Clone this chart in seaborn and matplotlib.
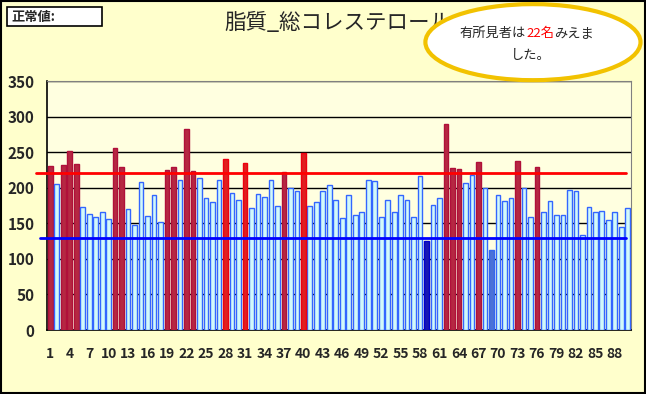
import numpy as np
import pandas as pd
import matplotlib.pyplot as plt
from matplotlib.patches import Ellipse
import seaborn as sns

# 受診者番号と総コレステロール値
patient_no = list(range(1, 91))
chol = [231, 205, 232, 252, 234, 173, 163, 159, 166, 156,
        256, 229, 170, 147, 208, 160, 190, 152, 225, 229,
        211, 283, 224, 214, 186, 180, 211, 241, 193, 183,
        235, 172, 191, 187, 211, 174, 222, 200, 196, 249,
        174, 180, 196, 204, 183, 158, 190, 162, 166, 211,
        209, 159, 183, 166, 190, 183, 159, 217, 125, 176,
        185, 290, 228, 226, 207, 218, 236, 199, 113, 190,
        181, 185, 237, 199, 159, 229, 166, 181, 161, 162,
        197, 196, 134, 173, 166, 167, 155, 166, 145, 172]

# 有所見者の区分 (dark red / bright red / low)
dark_red = [1, 3, 4, 5, 11, 12, 19, 20, 22, 23, 37, 62, 63, 64, 67, 73, 76]
bright_red = [28, 31, 40]
low_dark = [59]
low_blue = [69]

upper_limit = 220
lower_limit = 130

group = []
for n in patient_no:
    if n in dark_red:
        group.append('dark_red')
    elif n in bright_red:
        group.append('bright_red')
    elif n in low_dark:
        group.append('low_dark')
    elif n in low_blue:
        group.append('low_blue')
    else:
        group.append('normal')

df = pd.DataFrame({'no': [str(n) for n in patient_no], 'chol': chol, 'group': group})

palette = {'normal': '#CCFFFF', 'dark_red': '#CC1133', 'bright_red': '#FF0000',
           'low_dark': '#0000CC', 'low_blue': '#3366EE'}
edges = {'normal': '#3366FF', 'dark_red': '#B0103A', 'bright_red': '#EE0010',
         'low_dark': '#0000CC', 'low_blue': '#3366EE'}

sns.set_style('white')
plt.rcParams['font.family'] = ['Noto Sans CJK JP', 'DejaVu Sans']

fig = plt.figure(figsize=(6.46, 3.94), dpi=100, facecolor='#FFFFCC')
ax = fig.add_axes([0.0728, 0.1624, 0.904, 0.632])
ax.set_facecolor('#FFFFE0')

sns.barplot(data=df, x='no', y='chol', hue='group', palette=palette, dodge=False,
            width=0.72, edgecolor='#3366FF', linewidth=1, legend=False, ax=ax, zorder=3)

# 棒ごとの枠線色
bars = sorted(ax.patches, key=lambda p: p.get_x())
for p, g in zip(bars, group):
    p.set_edgecolor(edges[g])

ax.set_ylim(0, 350)
ax.set_xlim(-0.5, len(patient_no) - 0.5)
ax.set_yticks(range(0, 351, 50))
ax.yaxis.grid(True, color='black', linewidth=1)
ax.set_axisbelow(True)
ax.set_xticks(range(0, len(patient_no), 3))
ax.set_xticklabels([str(n) for n in patient_no[::3]])
ax.set_xticks(np.arange(-0.5, len(patient_no), 1), minor=True)
ax.tick_params(axis='y', labelsize=11, length=0, pad=9)
ax.tick_params(axis='x', which='major', labelsize=10, length=0, pad=12)
ax.tick_params(axis='x', which='minor', direction='in', length=3, width=1.5, color='#000033')
for lab in ax.get_xticklabels() + ax.get_yticklabels():
    lab.set_fontweight('bold')
ax.set_xlabel('')
ax.set_ylabel('')
for s in ['top', 'right']:
    ax.spines[s].set_color('#808080')
for s in ['left', 'bottom']:
    ax.spines[s].set_color('black')
    ax.spines[s].set_linewidth(1.2)

# 基準線
ax.plot([-2.2, 88.7], [upper_limit, upper_limit], color='#FF0000', lw=2, clip_on=False, zorder=5)
ax.plot([-1.6, 88.7], [lower_limit, lower_limit], color='#0000FF', lw=2, clip_on=False, zorder=5)

# タイトル
fig.text(0.523, 0.942, '脂質_総コレステロール', ha='center', va='center', fontsize=15.5)

# 正常値ボックス
fig.add_artist(plt.Rectangle((0.011, 0.934), 0.147, 0.048, transform=fig.transFigure,
                             facecolor='white', edgecolor='black', lw=1.2))
fig.text(0.018, 0.957, '正常値:', ha='left', va='center', fontsize=9.5, fontweight='bold')

# 吹き出し
ell = Ellipse((0.825, 0.893), 0.333, 0.193, transform=fig.transFigure,
              facecolor='white', edgecolor='#F2C200', lw=3, zorder=10)
fig.add_artist(ell)
t1 = fig.text(0.712, 0.915, '有所見者は', ha='left', va='center', fontsize=9.5, zorder=11)
t2 = fig.add_artist(plt.Annotation('22名', xy=(1, 0.5), xycoords=t1, ha='left', va='center',
                                   fontsize=9.5, color='#FF0000', zorder=11))
t3 = fig.add_artist(plt.Annotation('みえま', xy=(1, 0.5), xycoords=t2, ha='left', va='center',
                                   fontsize=9.5, zorder=11))
fig.text(0.822, 0.86, 'した。', ha='center', va='center', fontsize=9.5, zorder=11)

# 外枠
fig.add_artist(plt.Rectangle((0.002, 0.003), 0.996, 0.994, transform=fig.transFigure,
                             fill=False, edgecolor='black', lw=1.5))

fig.savefig('out.png', dpi=100, facecolor=fig.get_facecolor())
